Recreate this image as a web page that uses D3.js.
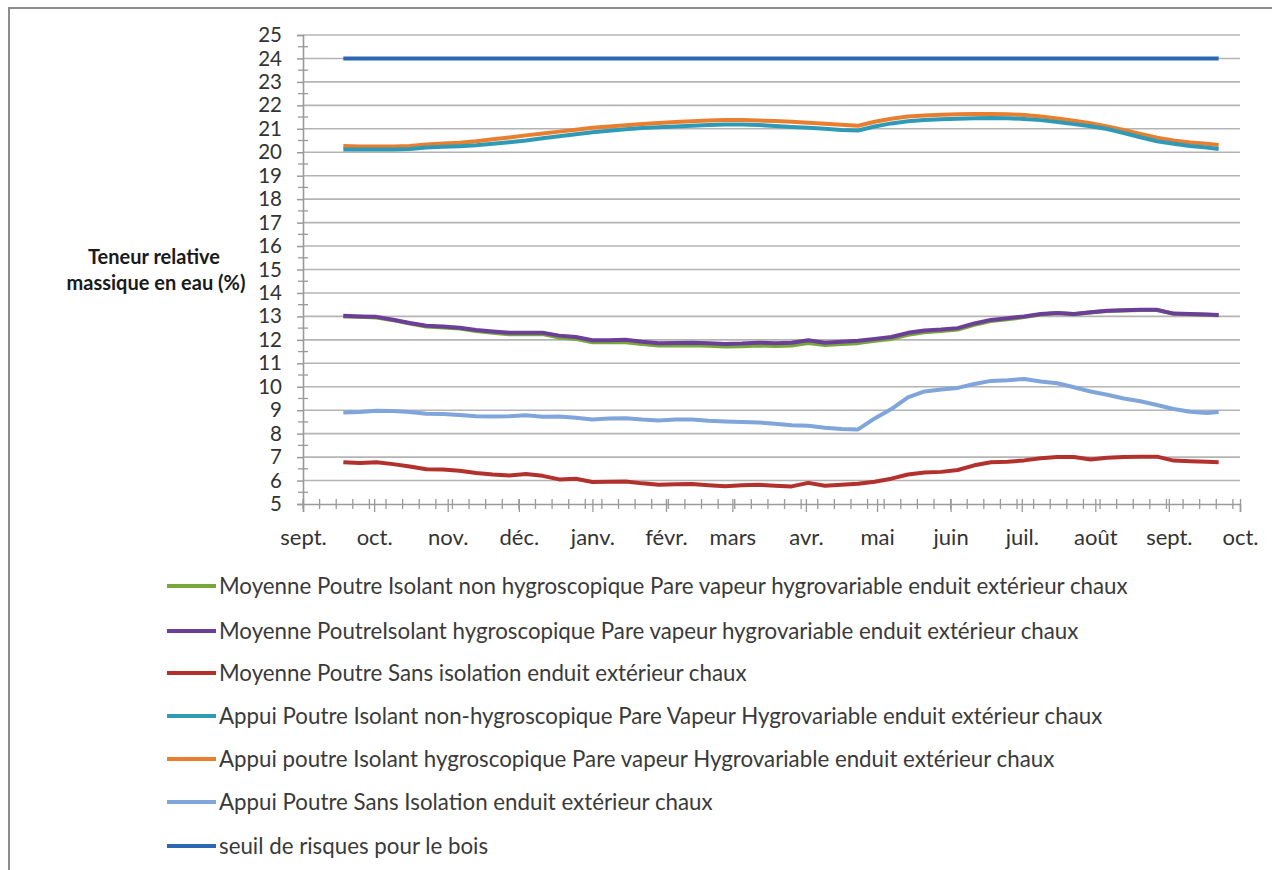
<!DOCTYPE html>
<html><head><meta charset="utf-8">
<script src="https://cdn.jsdelivr.net/npm/d3@7/dist/d3.min.js"></script>
<style>
html,body{margin:0;padding:0;background:#fff;}
svg{display:block;font-family:Lato,"Open Sans",sans-serif;}
</style></head>
<body><svg id="chart" width="1272" height="870"></svg>
<script>
// ---------- DATA ----------
const monthLabels = ["sept.","oct.","nov.","déc.","janv.","févr.","mars","avr.","mai","juin","juil.","août","sept.","oct."];
const yTicks = [5,6,7,8,9,10,11,12,13,14,15,16,17,18,19,20,21,22,23,24,25];
const dates = ["2010-09-18","2010-09-25","2010-10-02","2010-10-09","2010-10-16","2010-10-23","2010-10-30",
"2010-11-06","2010-11-13","2010-11-20","2010-11-27","2010-12-04","2010-12-11","2010-12-18","2010-12-25",
"2011-01-01","2011-01-08","2011-01-15","2011-01-22","2011-01-29","2011-02-05","2011-02-12","2011-02-19","2011-02-26",
"2011-03-05","2011-03-12","2011-03-19","2011-03-26","2011-04-02","2011-04-09","2011-04-16","2011-04-23","2011-04-30",
"2011-05-07","2011-05-14","2011-05-21","2011-05-28","2011-06-04","2011-06-11","2011-06-18","2011-06-25",
"2011-07-02","2011-07-09","2011-07-16","2011-07-23","2011-07-30","2011-08-06","2011-08-13","2011-08-20","2011-08-27",
"2011-09-03","2011-09-10","2011-09-17","2011-09-22"];

const moyenneNonHygro = [13.0,12.98,12.95,12.84,12.7,12.57,12.53,12.48,12.38,12.3,12.24,12.24,12.25,12.1,12.04,
11.9,11.9,11.9,11.82,11.76,11.76,11.77,11.75,11.72,11.73,11.76,11.74,11.76,11.86,11.78,11.82,11.86,11.96,
12.04,12.22,12.32,12.38,12.44,12.64,12.8,12.88,12.97,13.08,13.14,13.09,13.17,13.23,13.25,13.27,13.27,13.11,13.09,13.07,13.05];
const moyenneHygro = [13.03,13.0,12.98,12.86,12.72,12.6,12.57,12.52,12.42,12.36,12.3,12.3,12.3,12.18,12.12,
11.98,11.98,12.0,11.92,11.86,11.87,11.88,11.86,11.82,11.84,11.88,11.86,11.88,11.98,11.88,11.92,11.96,12.04,
12.12,12.3,12.4,12.44,12.5,12.7,12.85,12.92,13.0,13.1,13.15,13.1,13.18,13.24,13.26,13.28,13.28,13.12,13.1,13.08,13.06];
const moyenneSansIso = [6.78,6.75,6.78,6.7,6.6,6.48,6.47,6.42,6.32,6.26,6.22,6.28,6.2,6.05,6.08,
5.94,5.95,5.96,5.88,5.82,5.84,5.85,5.8,5.76,5.8,5.82,5.78,5.75,5.9,5.78,5.82,5.86,5.95,
6.08,6.26,6.34,6.37,6.45,6.65,6.78,6.8,6.86,6.95,7.0,7.0,6.9,6.97,7.0,7.02,7.02,6.85,6.82,6.8,6.78];
const appuiNonHygro = [20.12,20.12,20.12,20.12,20.14,20.2,20.23,20.26,20.3,20.36,20.43,20.5,20.6,20.68,20.77,
20.85,20.92,20.98,21.03,21.07,21.1,21.13,21.16,21.18,21.18,21.16,21.12,21.08,21.04,21.0,20.95,20.93,21.1,
21.23,21.32,21.38,21.41,21.43,21.45,21.46,21.45,21.42,21.37,21.29,21.2,21.11,20.99,20.82,20.64,20.47,20.36,20.27,20.2,20.14];
const appuiHygro = [20.27,20.25,20.24,20.24,20.27,20.33,20.37,20.41,20.47,20.55,20.63,20.72,20.8,20.88,20.96,
21.04,21.1,21.15,21.2,21.25,21.29,21.32,21.35,21.37,21.37,21.35,21.33,21.3,21.26,21.22,21.17,21.13,21.3,
21.43,21.52,21.57,21.6,21.62,21.63,21.63,21.62,21.59,21.52,21.44,21.34,21.24,21.1,20.95,20.78,20.62,20.5,20.42,20.36,20.31];
const appuiSansIso = [8.9,8.92,8.98,8.97,8.92,8.85,8.84,8.8,8.74,8.73,8.74,8.78,8.72,8.73,8.68,
8.6,8.65,8.66,8.6,8.56,8.6,8.6,8.55,8.52,8.5,8.48,8.42,8.36,8.34,8.25,8.2,8.18,8.65,
9.05,9.55,9.8,9.88,9.95,10.12,10.25,10.28,10.33,10.22,10.15,9.98,9.8,9.66,9.5,9.38,9.22,9.05,8.93,8.88,8.92];
const seuilDates = ["2010-09-18","2011-09-22"];
const seuil = [24,24];

const seriesNames = [
 "Moyenne Poutre Isolant non hygroscopique Pare vapeur hygrovariable enduit extérieur chaux",
 "Moyenne PoutreIsolant hygroscopique Pare vapeur hygrovariable enduit extérieur chaux",
 "Moyenne Poutre Sans isolation enduit extérieur chaux",
 "Appui Poutre Isolant non-hygroscopique Pare Vapeur Hygrovariable enduit extérieur chaux",
 "Appui poutre Isolant hygroscopique Pare vapeur Hygrovariable enduit extérieur chaux",
 "Appui Poutre Sans Isolation enduit extérieur chaux",
 "seuil de risques pour le bois"
];
const seriesColors = ["#78a83a","#6b3f98","#b3312c","#2f9ab6","#e97f2e","#7fa5da","#2c68b2"];

// ---------- CHART ----------
const svg = d3.select("#chart");
const parse = d3.timeParse("%Y-%m-%d");
const x = d3.scaleTime().domain([new Date(2010,8,1), new Date(2011,9,1)]).range([303,1240]);
const y = d3.scaleLinear().domain([5,25]).range([504,35]);

// outer frame
svg.append("rect").attr("x",9).attr("y",8).attr("width",1290).attr("height",900)
  .attr("fill","none").attr("stroke","#8c8c8c").attr("stroke-width",2);

// gridlines
svg.append("g").selectAll("line").data(yTicks.slice(1)).join("line")
  .attr("x1",303).attr("x2",1240).attr("y1",d=>y(d)).attr("y2",d=>y(d))
  .attr("stroke","#b4b4b4").attr("stroke-width",1.6);

// y axis
const yAxis = svg.append("g").attr("transform","translate(303,0)")
  .call(d3.axisLeft(y).tickValues(yTicks).tickSize(6).tickPadding(15).tickFormat(d3.format("d")));
yAxis.select(".domain").attr("stroke","#9a9a9a").attr("stroke-width",1.6);
yAxis.selectAll(".tick line").attr("stroke","#9a9a9a").attr("stroke-width",1.5);
yAxis.selectAll("text").attr("font-size",20.5).attr("fill","#333").attr("font-family","Lato, sans-serif");
// minor y ticks (cross)
const yMinor = yTicks.slice(0,-1).map(d=>d+0.5);
svg.append("g").selectAll("line").data(yMinor).join("line")
  .attr("x1",298).attr("x2",308).attr("y1",d=>y(d)).attr("y2",d=>y(d))
  .attr("stroke","#9a9a9a").attr("stroke-width",1.3);

// x axis
const monthTicks = d3.timeMonth.range(new Date(2010,8,1), new Date(2011,9,2));
const xAxis = svg.append("g").attr("transform","translate(0,504)")
  .call(d3.axisBottom(x).tickValues(monthTicks).tickSize(8).tickPadding(17)
    .tickFormat((d,i)=>monthLabels[i]));
xAxis.select(".domain").attr("stroke","#9a9a9a").attr("stroke-width",1.6);
xAxis.selectAll(".tick line").attr("stroke","#9a9a9a").attr("stroke-width",1.3).attr("y1",-5);
xAxis.selectAll("text").attr("font-size",22).attr("fill","#333").attr("font-family","Lato, sans-serif");
// weekly minor ticks (cross)
const weekTicks = d3.timeDay.range(new Date(2010,8,1), new Date(2011,9,2), 7);
svg.append("g").selectAll("line").data(weekTicks).join("line")
  .attr("x1",d=>x(d)).attr("x2",d=>x(d)).attr("y1",499).attr("y2",509)
  .attr("stroke","#9a9a9a").attr("stroke-width",1.3);

// y axis title
const yt = svg.append("text").attr("text-anchor","middle").attr("font-weight","bold")
  .attr("font-size",20).attr("fill","#1a1a1a");
yt.append("tspan").attr("x",154).attr("y",264).text("Teneur relative");
yt.append("tspan").attr("x",156).attr("y",290).text("massique en eau (%)");

// lines
const allSeries = [moyenneNonHygro, moyenneHygro, moyenneSansIso, appuiNonHygro, appuiHygro, appuiSansIso];
const line = d3.line().x(d=>x(d.date)).y(d=>y(d.value));
const drawOrder = [5,2,4,3,0,1];
drawOrder.forEach(i=>{
  const pts = dates.map((dt,j)=>({date:parse(dt), value:allSeries[i][j]}));
  svg.append("path").datum(pts).attr("d",line).attr("fill","none")
    .attr("stroke",seriesColors[i]).attr("stroke-width",4).attr("stroke-linejoin","round");
});
const seuilPts = seuilDates.map((dt,j)=>({date:parse(dt), value:seuil[j]}));
svg.append("path").datum(seuilPts).attr("d",line).attr("fill","none")
  .attr("stroke",seriesColors[6]).attr("stroke-width",4);

// legend
const legendY = [586,631,673,716,759,802,846];
const lg = svg.append("g").selectAll("g").data(seriesNames).join("g")
  .attr("transform",(d,i)=>`translate(0,${legendY[i]})`);
lg.append("line").attr("x1",167).attr("x2",216).attr("y1",0).attr("y2",0)
  .attr("stroke",(d,i)=>seriesColors[i]).attr("stroke-width",4);
lg.append("text").attr("x",219).attr("y",8).attr("font-size",22.3).attr("fill","#3a3a3a")
  .text(d=>d);
</script></body></html>
